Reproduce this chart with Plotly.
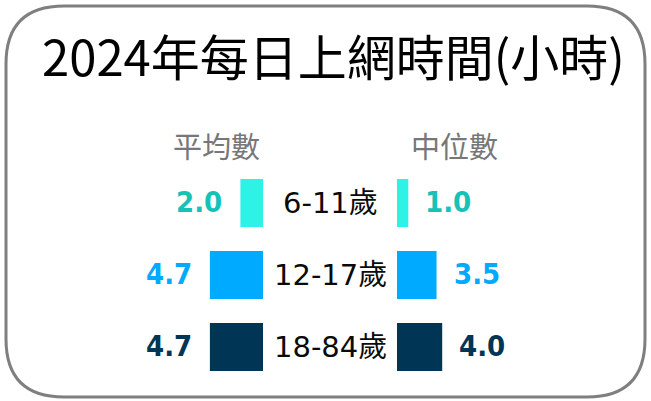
import plotly.graph_objects as go

# Dados
GRUPOS = ["6-11歲", "12-17歲", "18-84歲"]
MEDIA = [2.0, 4.7, 4.7]
MEDIANA = [1.0, 3.5, 4.0]
CORES_BARRA = ["#2EF2E6", "#00AAFF", "#003556"]
CORES_TEXTO = ["#14C2B8", "#00AAFF", "#003556"]
TITULO = "2024年每日上網時間(小時)"
CABECALHOS = ["平均數", "中位數"]

W, H = 651, 401
PX_UNIDADE = 11.3
CJK = "Noto Sans CJK TC"
NUM = "DejaVu Sans Condensed, DejaVu Sans, sans-serif"
ROTULO = "DejaVu Sans, Noto Sans CJK TC"

fig = go.Figure()

esq_fim = 263 / W
dir_ini = 397 / W

fig.add_trace(go.Bar(
    x=MEDIA, y=GRUPOS, orientation="h", width=0.667,
    marker=dict(color=CORES_BARRA, line=dict(width=0)),
    xaxis="x", yaxis="y", hoverinfo="skip",
))
fig.add_trace(go.Bar(
    x=MEDIANA, y=GRUPOS, orientation="h", width=0.667,
    marker=dict(color=CORES_BARRA, line=dict(width=0)),
    xaxis="x2", yaxis="y", hoverinfo="skip",
))

# rótulos de valor
for g, v, c in zip(GRUPOS, MEDIA, CORES_TEXTO):
    fig.add_annotation(x=v, y=g, xref="x", yref="y", text=f"<b>{v:.1f}</b>",
                       showarrow=False, xanchor="right", yanchor="middle",
                       xshift=-16, yshift=1,
                       font=dict(family=NUM, size=29, color=c))
for g, v, c in zip(GRUPOS, MEDIANA, CORES_TEXTO):
    fig.add_annotation(x=v, y=g, xref="x2", yref="y", text=f"<b>{v:.1f}</b>",
                       showarrow=False, xanchor="left", yanchor="middle",
                       xshift=15, yshift=1,
                       font=dict(family=NUM, size=29, color=c))

# rótulos das categorias (no meio)
for g in GRUPOS:
    fig.add_annotation(x=(esq_fim + dir_ini) / 2, y=g, xref="paper", yref="y",
                       text=g, showarrow=False, xanchor="center",
                       yanchor="middle", yshift=0,
                       font=dict(family=ROTULO, size=29, color="#0A0A0A"))

# cabeçalhos
for txt, cx in zip(CABECALHOS, [216, 454]):
    fig.add_annotation(x=cx / W, y=1 - 145 / H, xref="paper", yref="paper",
                       text=txt, showarrow=False,
                       xanchor="center", yanchor="middle",
                       font=dict(family=CJK, size=29, color="#777777"))

# título
fig.add_annotation(x=333 / W, y=1 - 54 / H, xref="paper", yref="paper",
                   text=TITULO, showarrow=False,
                   xanchor="center", yanchor="middle",
                   font=dict(family=CJK, size=49, color="#000000"))

# moldura arredondada
x0, y0, x1, y1, r = 6, 6, 645, 397, 58
def px(x):
    return x / W
def py(y):
    return 1 - y / H
caminho = (
    f"M {px(x0 + r)} {py(y0)} L {px(x1 - r)} {py(y0)} "
    f"Q {px(x1)} {py(y0)} {px(x1)} {py(y0 + r)} "
    f"L {px(x1)} {py(y1 - r)} "
    f"Q {px(x1)} {py(y1)} {px(x1 - r)} {py(y1)} "
    f"L {px(x0 + r)} {py(y1)} "
    f"Q {px(x0)} {py(y1)} {px(x0)} {py(y1 - r)} "
    f"L {px(x0)} {py(y0 + r)} "
    f"Q {px(x0)} {py(y0)} {px(x0 + r)} {py(y0)} Z"
)
fig.add_shape(type="path", path=caminho, xref="paper", yref="paper",
              line=dict(color="#7F7F7F", width=3))

# eixos
y_topo = -203 / 72
y_base = y_topo + H / 72
fig.update_layout(
    width=W, height=H,
    margin=dict(l=0, r=0, t=0, b=0),
    showlegend=False,
    plot_bgcolor="white",
    paper_bgcolor="white",
    xaxis=dict(domain=[0, esq_fim], range=[esq_fim * W / PX_UNIDADE, 0],
               visible=False, fixedrange=True),
    xaxis2=dict(domain=[dir_ini, 1], range=[0, (1 - dir_ini) * W / PX_UNIDADE],
                visible=False, fixedrange=True),
    yaxis=dict(range=[y_base, y_topo], visible=False, fixedrange=True,
               categoryorder="array", categoryarray=GRUPOS),
)

fig.write_html(
    "out.html",
    config={"displayModeBar": False},
    post_script="document.body.style.margin='0';document.body.style.overflow='hidden';",
)
